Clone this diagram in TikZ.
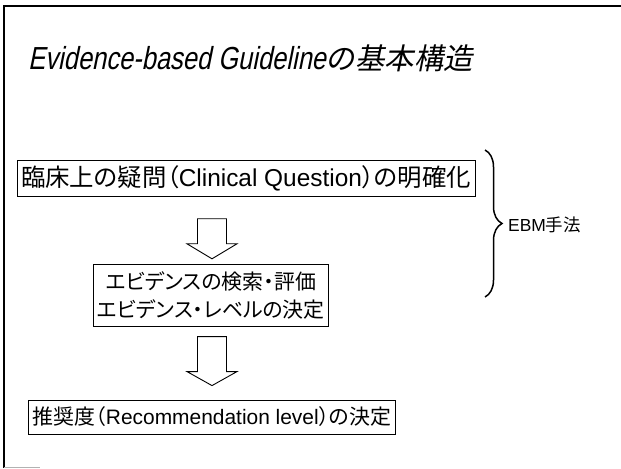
\documentclass[tikz,border=0pt]{standalone}
\usepackage{fontspec}
\usetikzlibrary{calc,decorations.pathreplacing}
\setmainfont{Liberation Sans}
\newfontfamily\jpfont[RawFeature=+palt]{Noto Sans CJK JP}
\newfontfamily\titlefont[FakeSlant=0.2,FakeStretch=0.8]{Liberation Sans}
\newfontfamily\titlejp[FakeSlant=0.2]{Noto Sans CJK JP}
\newcommand{\jp}[1]{{\jpfont #1}}

\tikzset{
  stepbox/.style={draw=black,line width=0.9bp,inner xsep=4bp,inner ysep=6bp,
    font=\fontsize{23}{29}\selectfont,align=center},
  hollow/.style={draw=black,line width=0.9bp,fill=white},
}

\begin{document}
\begin{tikzpicture}[x=1bp,y=1bp]
    \useasboundingbox (0,0) rectangle (621,469);
    % frame
    \draw[line width=1.6bp] (4,1) -- (4,463) -- (621,463);
    \draw[gray!60,line width=0.8bp] (4,1.5) -- (40,1.5);
    % title
    \node[anchor=base west,inner sep=0] (title) at (28,399)
        {\fontsize{32}{36}\titlefont Evidence-based Guideline\fontsize{29.5}{36}\titlejp の基本構造};
    % boxes
    \node[stepbox,font=\fontsize{24.5}{29}\selectfont,inner ysep=5.5bp] (b1) at (246,290.5)
        {\jp{臨床上の疑問（}Clinical Question\jp{）の明確化}};
    \node[stepbox,font=\fontsize{21}{29}\selectfont,inner ysep=7bp] (b2) at (211,173.5)
        {\jp{エビデンスの検索・評価}\\\jp{エビデンス・レベルの決定}};
    \node[stepbox,font=\fontsize{21}{29}\selectfont,inner ysep=7bp] (b3) at (212,52)
        {\jp{推奨度（}Recommendation level\jp{）の決定}};
    % block arrows
    \coordinate (t1) at ($(b2.north)+(1,5)$);
    \coordinate (t2) at ($(b2.north |- b3.north)+(1,14)$);
    \draw[hollow] ($(t1)+(-14.5,40)$) -- ($(t1)+(14.5,40)$) -- ($(t1)+(14.5,15)$)
        -- ($(t1)+(25,15)$) -- (t1) -- ($(t1)+(-25,15)$) -- ($(t1)+(-14.5,15)$) -- cycle;
    \draw[hollow] ($(t2)+(-14.5,49)$) -- ($(t2)+(14.5,49)$) -- ($(t2)+(14.5,14)$)
        -- ($(t2)+(25,14)$) -- (t2) -- ($(t2)+(-25,14)$) -- ($(t2)+(-14.5,14)$) -- cycle;
    % brace
    \coordinate (bt) at (485,319);
    \coordinate (bb) at (485,172);
    \draw[line width=1.5bp,decorate,decoration={brace,amplitude=17bp}] (bt) -- (bb);
    \node[anchor=west,inner sep=0,font=\fontsize{17.5}{20}\selectfont] (ebm) at (508,244)
        {EBM\jp{手法}};
\end{tikzpicture}
\end{document}
